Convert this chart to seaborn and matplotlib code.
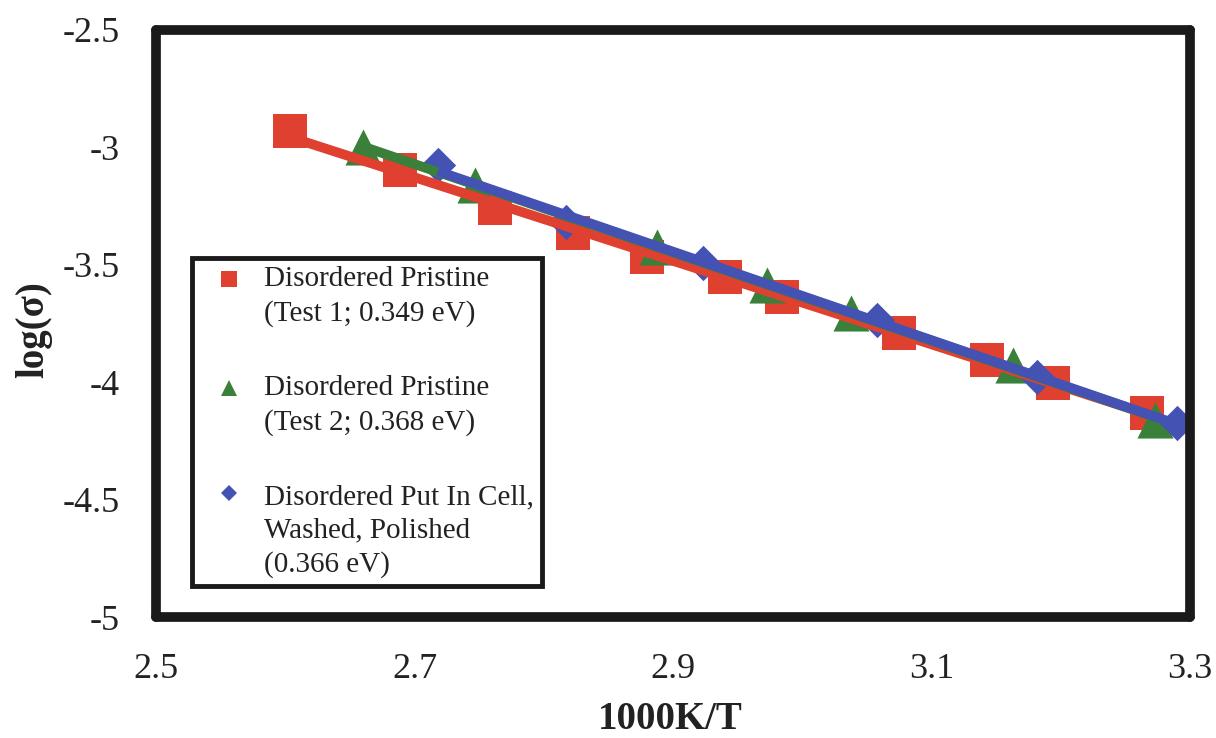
import numpy as np
import pandas as pd
import matplotlib
matplotlib.use("Agg")
import matplotlib.pyplot as plt
import seaborn as sns
from matplotlib.lines import Line2D
from matplotlib.ticker import FuncFormatter
from matplotlib.legend_handler import HandlerLine2D

# ---- data ----
x_test1 = [2.604, 2.689, 2.762, 2.823, 2.880, 2.940, 2.984, 3.075, 3.143, 3.194, 3.267]
y_test1 = [-2.930, -3.096, -3.258, -3.365, -3.467, -3.552, -3.637, -3.790, -3.905, -4.003, -4.131]

x_test2 = [2.660, 2.747, 2.888, 2.973, 3.038, 3.163, 3.273]
y_test2 = [-2.998, -3.160, -3.424, -3.586, -3.705, -3.927, -4.161]

x_cell = [2.718, 2.817, 2.923, 3.058, 3.182, 3.290]
y_cell = [-3.075, -3.318, -3.492, -3.735, -3.978, -4.174]

labels = ["Disordered Pristine\n(Test 1; 0.349 eV)",
          "Disordered Pristine\n(Test 2; 0.368 eV)",
          "Disordered Put In Cell,\nWashed, Polished\n(0.366 eV)"]
x_ticks = [2.5, 2.7, 2.9, 3.1, 3.3]
y_ticks = [-2.5, -3, -3.5, -4, -4.5, -5]

# ---- style ----
sns.set_style("white")
plt.rcParams['font.family'] = ['Liberation Serif', 'DejaVu Serif']
plt.rcParams['axes.unicode_minus'] = False

red = "#E04030"
green = "#3A803A"
blue = "#4452B4"

LEG_FS = 21
LEG_LS = 1.38

fig = plt.figure(figsize=(12.16, 7.38), dpi=100)
ax = fig.add_axes([156/1216, 1 - 617/738, (1190-156)/1216, (617-30)/738])

series = [
    (x_test1, y_test1, red, "s", 24**2),
    (x_test2, y_test2, green, "^", 26**2),
    (x_cell, y_cell, blue, "D", 18**2),
]

for xs, ys, c, m, s in series:
    sns.scatterplot(x=xs, y=ys, ax=ax, color=c, marker=m, s=s, linewidth=0, zorder=2)

for xs, ys, c, m, s in series:
    df = pd.DataFrame({"x": xs, "y": ys})
    sns.regplot(data=df, x="x", y="y", ax=ax, scatter=False, ci=None, truncate=True,
                color=c, line_kws=dict(lw=7, zorder=3, solid_capstyle="butt"))

ax.set_xlim(2.5, 3.3)
ax.set_ylim(-5, -2.5)
ax.set_xticks(x_ticks)
ax.set_yticks(y_ticks)
fmt = FuncFormatter(lambda v, p: f"{v:g}")
ax.xaxis.set_major_formatter(fmt)
ax.yaxis.set_major_formatter(fmt)
ax.tick_params(axis="both", length=0, pad=26, labelsize=26, colors="#222222")

for sp in ax.spines.values():
    sp.set_visible(True)
    sp.set_color("#1a1a1a")
    sp.set_linewidth(7)
    sp.set_joinstyle("round")
    sp.set_capstyle("round")

ax.set_xlabel("1000K/T", fontsize=28, fontweight="bold", color="#222222")
ax.set_ylabel("log(σ)", fontsize=28, fontweight="bold", color="#222222")
ax.xaxis.set_label_coords(0.497, -0.143)
ax.yaxis.set_label_coords(-0.100, 0.49)


class FirstLineHandler(HandlerLine2D):
    """Place the legend marker next to the first line of a multi-line label."""
    def __init__(self, n_lines, **kw):
        super().__init__(**kw)
        self.n_lines = n_lines

    def create_artists(self, legend, orig_handle, xdescent, ydescent,
                       width, height, fontsize, trans):
        arts = super().create_artists(legend, orig_handle, xdescent, ydescent,
                                      width, height, fontsize, trans)
        shift = (self.n_lines - 1) / 2 * fontsize * LEG_LS - 2.0
        for a in arts:
            a.set_ydata(np.asarray(a.get_ydata(), dtype=float) + shift)
        return arts


handles = [
    Line2D([], [], linestyle="none", marker="s", color=red, markersize=11, markeredgewidth=0),
    Line2D([], [], linestyle="none", marker="^", color=green, markersize=11, markeredgewidth=0),
    Line2D([], [], linestyle="none", marker="D", color=blue, markersize=8, markeredgewidth=0),
]
handler_map = {h: FirstLineHandler(lab.count("\n") + 1) for h, lab in zip(handles, labels)}
leg = ax.legend(handles, labels, loc="upper left", bbox_to_anchor=(0.0348, 0.6116),
                borderaxespad=0, fontsize=LEG_FS, frameon=True, fancybox=False,
                framealpha=1, edgecolor="#1a1a1a", labelspacing=1.65,
                handlelength=2.0, handletextpad=0.2, borderpad=0.28,
                handler_map=handler_map)
leg.get_frame().set_linewidth(3.5)
for t in leg.get_texts():
    t.set_color("#222222")
    t.set_linespacing(LEG_LS)

fig.savefig("out.png", dpi=100, facecolor="white")
